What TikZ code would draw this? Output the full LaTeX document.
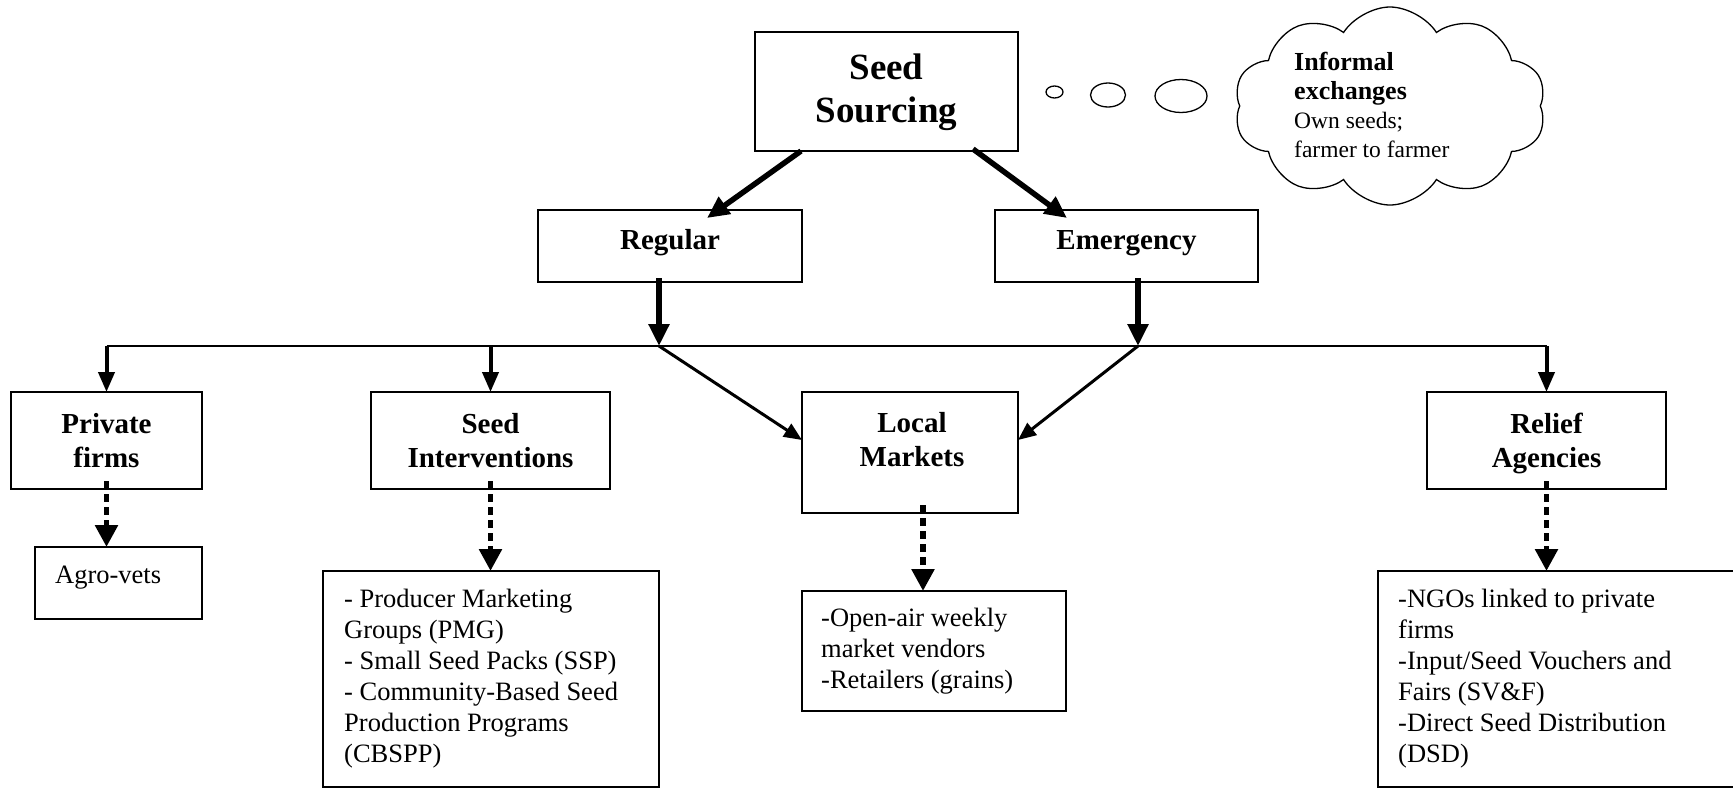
\documentclass[tikz,border=0pt]{standalone}
\usepackage{fontspec}
\setmainfont{Liberation Serif}
\usetikzlibrary{arrows.meta,calc,shapes.geometric,shapes.symbols}
\tikzset{
  box/.style={draw, line width=1.4pt, rectangle, inner sep=0pt, outer sep=0pt},
  big/.style={font=\bfseries\fontsize{37}{43}\selectfont, align=center, inner sep=0pt},
  lbl/.style={font=\bfseries\fontsize{29}{34}\selectfont, align=center, inner sep=0pt},
  lst/.style={font=\fontsize{26.5}{31}\selectfont, align=left, inner sep=0pt, anchor=north west},
  bub/.style={draw, line width=1.3pt, ellipse, inner sep=0pt},
  thickarr/.style={line width=5.5pt, -{Triangle[length=22pt,width=20pt]}},
  brancharr/.style={line width=4pt, -{Triangle[length=20pt,width=16pt]}},
  diagarr/.style={line width=3pt, -{Triangle[length=18pt,width=15pt]}},
  dotarr/.style={line width=5.5pt, dash pattern=on 8pt off 5pt, -{Triangle[length=22pt,width=22pt]}},
}
\begin{document}
\begin{tikzpicture}[x=1pt,y=-1pt]
\useasboundingbox (0,0) rectangle (1733,788);
\clip (0,0) rectangle (1733,788);
% boxes
\node[box, minimum width=263pt, minimum height=119pt] (src) at (886.5,91.5) {};
\node[box, minimum width=264pt, minimum height=72pt] (reg) at (670,246) {};
\node[box, minimum width=263pt, minimum height=72pt] (emg) at (1126.5,246) {};
\node[box, minimum width=191pt, minimum height=97pt] (pf) at (106.5,440.5) {};
\node[box, minimum width=239pt, minimum height=97pt] (si) at (490.5,440.5) {};
\node[box, minimum width=216pt, minimum height=121pt] (lm) at (910,452.5) {};
\node[box, minimum width=239pt, minimum height=97pt] (ra) at (1546.5,440.5) {};
\node[box, minimum width=167pt, minimum height=72pt] (av) at (118.5,583) {};
\node[box, minimum width=336pt, minimum height=216pt] (sil) at (491,679) {};
\node[box, minimum width=264pt, minimum height=120pt] (lml) at (934,651) {};
\node[box, minimum width=367pt, minimum height=216pt] (ral) at (1561.5,679) {};
% labels
\node[big] (srct) at (886.5,92) {Seed\\Sourcing};
\node[lbl] (regt) at (670,243) {Regular};
\node[lbl] (emgt) at (1126.5,243) {Emergency};
\node[lbl] (pft) at (106.5,441) {Private\\firms};
\node[lbl] (sit) at (490.5,441) {Seed\\Interventions};
\node[lbl] (lmt) at (912,440) {Local\\Markets};
\node[lbl] (rat) at (1546.5,443) {Relief\\Agencies};
\node[lst] (avt) at (55,566) {Agro-vets};
\node[lst] (silt) at (344,589) {- Producer Marketing\\Groups (PMG)\\- Small Seed Packs (SSP)\\- Community-Based Seed\\Production Programs\\(CBSPP)};
\node[lst] (lmlt) at (821,608) {-Open-air weekly\\market vendors\\-Retailers (grains)};
\node[lst] (ralt) at (1398,589) {-NGOs linked to private\\firms\\-Input/Seed Vouchers and\\Fairs (SV\&F)\\-Direct Seed Distribution\\(DSD)};
% thought bubbles and cloud
\node[bub, minimum width=17pt, minimum height=12pt] (b1) at (1054.5,92) {};
\node[bub, minimum width=35pt, minimum height=24pt] (b2) at (1108,95) {};
\node[bub, minimum width=52pt, minimum height=33pt] (b3) at (1181,96) {};
\node[draw, line width=1.3pt, cloud, cloud puffs=10, cloud puff arc=115, cloud ignores aspect, minimum width=312pt, minimum height=198pt] (cloud) at (1390,106) {};
\node[anchor=north west, align=left, inner sep=0pt, font=\fontsize{23.5}{29}\selectfont] (cloudt) at (1294,52)
  {{\bfseries\fontsize{26}{31}\selectfont Informal}\\{\bfseries\fontsize{26}{31}\selectfont exchanges}\\Own seeds;\\farmer to farmer};
% junctions
\coordinate (jr) at (659,346);
\coordinate (je) at (1138,346);
\coordinate (hl) at (pf.north |- jr);
\coordinate (hr) at (ra.north |- jr);
% connectors
\draw[thickarr] ($(src.south)+(-85.5,0)$) -- ($(reg.north)+(37,8)$);
\draw[thickarr] ($(src.south)+(86.5,-2)$) -- ($(emg.north)+(-59.5,8)$);
\draw[thickarr] ($(reg.south)+(-11,-4)$) -- (jr);
\draw[thickarr] ($(emg.south)+(11.5,-4)$) -- (je);
\draw[line width=2pt] (hl) -- (hr);
\draw[brancharr] (hl) -- (pf.north);
\draw[brancharr] (si.north |- jr) -- (si.north);
\draw[brancharr] (hr) -- (ra.north);
\draw[diagarr] (jr) -- ($(lm.north west)+(0,48)$);
\draw[diagarr] (je) -- ($(lm.north east)+(0,48)$);
\draw[dotarr] ($(pf.south)+(0,-8)$) -- (pf.south |- av.north);
\draw[dotarr] ($(si.south)+(0,-8)$) -- (si.south |- sil.north);
\draw[dotarr] ($(lm.south)+(13,-8)$) -- ($(lm.south |- lml.north)+(13,0)$);
\draw[dotarr] ($(ra.south)+(0,-8)$) -- (ra.south |- ral.north);
\end{tikzpicture}
\end{document}
